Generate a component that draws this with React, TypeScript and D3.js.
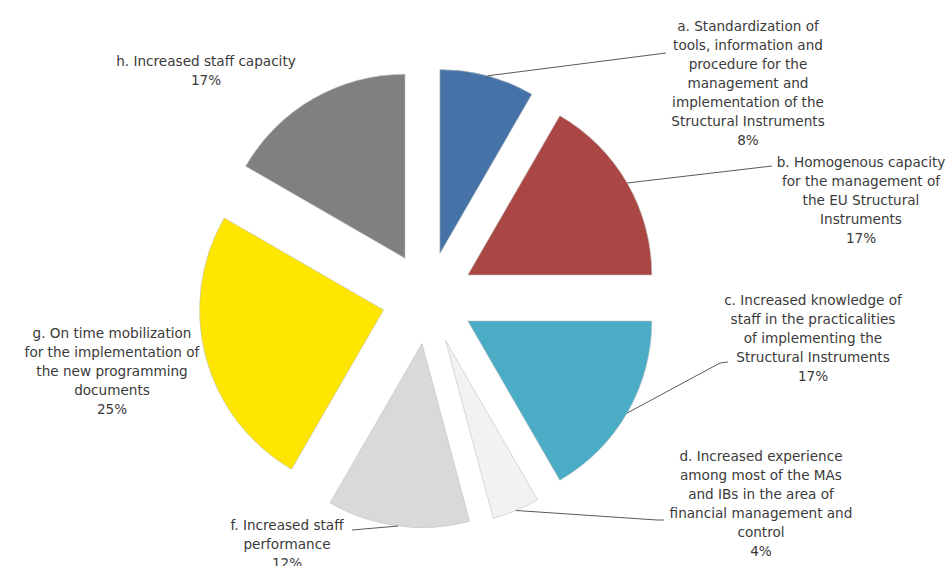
import React from 'react';
import * as d3 from 'd3';

// slice order, clockwise from 12 o'clock
const categories = ['a', 'b', 'c', 'd', 'f', 'g', 'h'];
const values = [2, 4, 4, 1, 3, 6, 4];
const percentLabels = ['8%', '17%', '17%', '4%', '12%', '25%', '17%'];
const labelLines = [
    ['a. Standardization of', 'tools, information and', 'procedure for the', 'management and', 'implementation of the', 'Structural Instruments'],
    ['b. Homogenous capacity', 'for the management of', 'the EU Structural', 'Instruments'],
    ['c. Increased knowledge of', 'staff in the practicalities', 'of implementing the', 'Structural Instruments'],
    ['d. Increased experience', 'among most of the MAs', 'and IBs in the area of', 'financial management and', 'control'],
    ['f. Increased staff', 'performance'],
    ['g. On time mobilization', 'for the implementation of', 'the new programming', 'documents'],
    ['h. Increased staff capacity']
];
const colors = ['#4572A7', '#AA4643', '#4BACC6', '#F2F2F2', '#D9D9D9', '#FFE600', '#808080'];

// label placement: text centre x, first baseline, leader end (null = no leader)
const labelLayout = [
    { x: 748, y: 31, end: [[666, 53]] },
    { x: 861, y: 167, end: [[772, 166]] },
    { x: 813, y: 305, end: [[720, 363], [728, 362]] },
    { x: 761, y: 461, end: [[657, 520], [664, 520]] },
    { x: 287, y: 530, end: [[352, 530]] },
    { x: 112, y: 338, end: null },
    { x: 206, y: 66, end: null }
];

const width = 951;
const height = 566;
const cx = 428;
const cy = 298;
const radius = 184;
const explode = 46;
const lineHeight = 19;

const App = () => {
    const pie = d3.pie<number>().sort(null).startAngle(0).endAngle(2 * Math.PI);
    const arcs = pie(values);
    const arc = d3.arc<d3.PieArcDatum<number>>().innerRadius(0).outerRadius(radius);

    const dir = (a: d3.PieArcDatum<number>) => {
        const mid = (a.startAngle + a.endAngle) / 2;
        return [Math.sin(mid), -Math.cos(mid)];
    };

    return (
        <svg width={width} height={height} style={{ position: 'absolute', left: 0, top: 0, background: '#fff' }}
            fontFamily="'DejaVu Sans', 'Liberation Sans', sans-serif">
            <g transform={`translate(${cx},${cy})`}>
                {arcs.map((a, i) => {
                    const [dx, dy] = dir(a);
                    return (
                        <path key={categories[i]} d={arc(a) || ''}
                            transform={`translate(${dx * explode},${dy * explode})`}
                            fill={colors[i]} stroke="#bfbfbf" strokeWidth={0.6} />
                    );
                })}
            </g>
            {arcs.map((a, i) => {
                const lay = labelLayout[i];
                if (!lay.end) return null;
                const [dx, dy] = dir(a);
                const sx = cx + dx * (explode + radius);
                const sy = cy + dy * (explode + radius);
                const pts = [[sx, sy], ...lay.end];
                return (
                    <polyline key={'l' + i} points={pts.map((p) => p.join(',')).join(' ')}
                        fill="none" stroke="#595959" strokeWidth={1} />
                );
            })}
            {labelLines.map((lines, i) => {
                const lay = labelLayout[i];
                const all = [...lines, percentLabels[i]];
                return (
                    <text key={'t' + i} x={lay.x} y={lay.y} textAnchor="middle" fontSize={13.6} fill="#3a3a3a">
                        {all.map((s, j) => (
                            <tspan key={j} x={lay.x} y={lay.y + j * lineHeight}>{s}</tspan>
                        ))}
                    </text>
                );
            })}
        </svg>
    );
};

export default App;
